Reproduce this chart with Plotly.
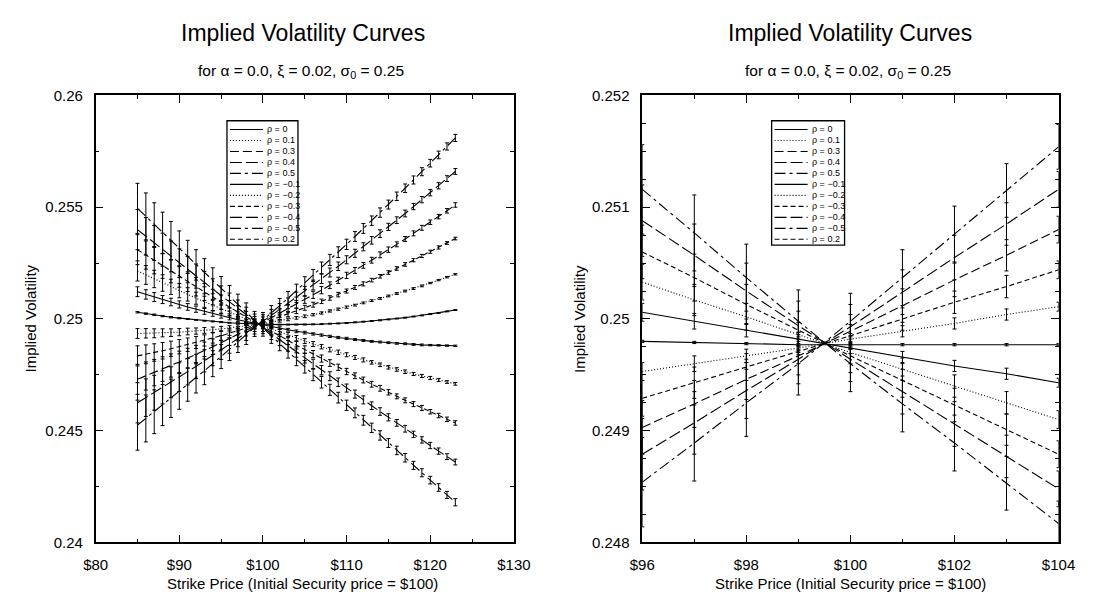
import plotly.graph_objects as go

# ---------------- data ----------------
rho_labels = ["ρ = 0", "ρ = 0.1", "ρ = 0.3", "ρ = 0.4", "ρ = 0.5",
              "ρ = −0.1", "ρ = −0.2", "ρ = −0.3", "ρ = −0.4", "ρ = −0.5", "ρ = 0.2"]
rho_keys = ["0", "0.1", "0.3", "0.4", "0.5", "-0.1", "-0.2", "-0.3", "-0.4", "-0.5", "0.2"]

strikes_left = [85, 86, 87, 88, 89, 90, 91, 92, 93, 94, 95, 96, 97, 98, 99, 100, 101, 102, 103,
                104, 105, 106, 107, 108, 109, 110, 111, 112, 113, 114, 115, 116, 117, 118, 119,
                120, 121, 122, 123]
strikes_right = [96, 97, 98, 99, 100, 101, 102, 103, 104]

# implied volatility, units of 1e-5
L_r00 = [25030, 25024, 25019, 25013, 25008, 25004, 25000, 24996, 24992, 24989, 24986, 24983, 24981, 24979, 24978,
         24976, 24976, 24975, 24975, 24975, 24975, 24976, 24977, 24979, 24980, 24982, 24985, 24988, 24991, 24994,
         24998, 25002, 25006, 25011, 25016, 25022, 25027, 25034, 25040]
L_r01 = [24935, 24936, 24936, 24938, 24939, 24941, 24944, 24946, 24949, 24952, 24956, 24960, 24965, 24969, 24974,
         24980, 24986, 24992, 24998, 25005, 25012, 25019, 25027, 25036, 25044, 25053, 25062, 25072, 25082, 25092,
         25103, 25114, 25125, 25136, 25148, 25161, 25174, 25187, 25200]
L_r02 = [24835, 24842, 24850, 24858, 24867, 24876, 24885, 24895, 24904, 24915, 24925, 24936, 24947, 24959, 24971,
         24983, 24996, 25009, 25022, 25036, 25050, 25064, 25079, 25094, 25109, 25125, 25141, 25157, 25174, 25191,
         25208, 25226, 25244, 25263, 25282, 25301, 25320, 25340, 25360]
L_r03 = [24730, 24745, 24760, 24776, 24792, 24808, 24825, 24841, 24859, 24876, 24894, 24912, 24930, 24949, 24967,
         24987, 25006, 25026, 25046, 25066, 25087, 25108, 25129, 25151, 25173, 25195, 25217, 25240, 25263, 25287,
         25310, 25334, 25358, 25383, 25408, 25433, 25458, 25484, 25510]
L_r04 = [24625, 24648, 24670, 24694, 24717, 24740, 24764, 24788, 24813, 24837, 24862, 24887, 24913, 24938, 24964,
         24990, 25016, 25043, 25070, 25097, 25124, 25152, 25180, 25208, 25236, 25265, 25294, 25323, 25352, 25382,
         25412, 25442, 25472, 25503, 25534, 25565, 25596, 25628, 25660]
L_r05 = [24525, 24555, 24585, 24615, 24645, 24676, 24706, 24737, 24769, 24800, 24832, 24864, 24896, 24928, 24961,
         24993, 25026, 25060, 25093, 25127, 25161, 25195, 25229, 25264, 25299, 25334, 25369, 25405, 25440, 25476,
         25512, 25549, 25585, 25622, 25659, 25697, 25734, 25772, 25810]
L_rm01 = [25122, 25110, 25098, 25087, 25076, 25065, 25054, 25044, 25034, 25024, 25015, 25006, 24997, 24989, 24981,
          24973, 24966, 24959, 24952, 24945, 24939, 24933, 24928, 24922, 24917, 24913, 24908, 24904, 24900, 24897,
          24894, 24891, 24889, 24886, 24884, 24883, 24882, 24881, 24880]
L_rm02 = [25215, 25197, 25179, 25161, 25144, 25127, 25110, 25093, 25077, 25061, 25045, 25029, 25014, 24999, 24984,
          24970, 24956, 24942, 24928, 24914, 24901, 24888, 24876, 24863, 24851, 24840, 24828, 24817, 24806, 24795,
          24784, 24774, 24764, 24754, 24745, 24736, 24727, 24718, 24710]
L_rm03 = [25310, 25286, 25261, 25237, 25214, 25190, 25167, 25144, 25121, 25098, 25075, 25053, 25031, 25009, 24988,
          24966, 24945, 24924, 24904, 24883, 24863, 24843, 24823, 24803, 24784, 24765, 24746, 24727, 24708, 24690,
          24672, 24654, 24636, 24619, 24602, 24585, 24568, 24551, 24535]
L_rm04 = [25400, 25370, 25340, 25310, 25280, 25250, 25221, 25192, 25163, 25134, 25105, 25076, 25048, 25019, 24991,
          24963, 24935, 24907, 24880, 24852, 24825, 24798, 24771, 24744, 24717, 24691, 24664, 24638, 24612, 24586,
          24560, 24535, 24509, 24484, 24459, 24434, 24409, 24384, 24360]
L_rm05 = [25495, 25459, 25422, 25386, 25350, 25314, 25278, 25242, 25207, 25171, 25136, 25100, 25065, 25030, 24995,
          24959, 24925, 24890, 24855, 24820, 24786, 24751, 24717, 24683, 24648, 24614, 24580, 24547, 24513, 24479,
          24445, 24412, 24379, 24345, 24312, 24279, 24246, 24213, 24180]

# error-bar half-lengths (1e-5), by |rho|
L_e00 = [3, 3, 3, 3, 3, 3, 2, 2, 2, 2, 2, 2, 2, 2, 2, 2, 2, 2, 2, 2, 2, 2, 2, 2, 2, 2, 2, 2, 2, 2,
         2, 2, 2, 2, 2, 2, 2, 2, 2]
L_e01 = [22, 21, 20, 18, 17, 16, 15, 14, 13, 12, 11, 10, 9, 8, 8, 7, 7, 6, 6, 6, 6, 5, 5, 5, 5, 5, 4, 4, 4, 4,
         4, 4, 4, 4, 4, 3, 3, 3, 3]
L_e02 = [45, 42, 39, 37, 34, 32, 30, 27, 25, 23, 22, 20, 18, 17, 16, 14, 14, 13, 12, 12, 11, 11, 10, 10, 10, 9,
         9, 9, 8, 8, 8, 8, 8, 7, 7, 7, 7, 6, 6]
L_e03 = [67, 63, 59, 55, 52, 48, 44, 41, 38, 35, 32, 30, 28, 25, 23, 22, 20, 19, 18, 17, 17, 16, 16, 15, 14, 14,
         13, 13, 13, 13, 12, 11, 11, 11, 11, 10, 10, 10, 10]
L_e04 = [90, 84, 78, 74, 69, 64, 59, 54, 50, 46, 43, 40, 37, 34, 31, 29, 27, 26, 24, 23, 22, 22, 21, 20, 19, 18,
         18, 18, 17, 17, 16, 15, 15, 14, 14, 14, 14, 13, 13]
L_e05 = [112, 105, 98, 92, 86, 80, 74, 68, 63, 58, 54, 50, 46, 42, 39, 36, 34, 32, 30, 29, 28, 27, 26, 25, 24,
         23, 22, 22, 21, 21, 20, 19, 19, 18, 18, 17, 17, 16, 16]

R_r00 = [24980, 24979, 24978, 24977, 24977, 24977, 24977, 24977, 24977]
R_r01 = [24953, 24960, 24967, 24974, 24982, 24989, 24996, 25004, 25011]
R_r02 = [24929, 24943, 24957, 24971, 24985, 25000, 25015, 25029, 25044]
R_r03 = [24903, 24924, 24946, 24967, 24989, 25012, 25035, 25057, 25080]
R_r04 = [24879, 24907, 24936, 24964, 24993, 25024, 25055, 25085, 25116]
R_r05 = [24854, 24889, 24925, 24960, 24998, 25037, 25076, 25115, 25154]
R_rm01 = [25006, 24998, 24990, 24982, 24974, 24966, 24958, 24951, 24943]
R_rm02 = [25033, 25017, 25002, 24986, 24970, 24955, 24940, 24925, 24910]
R_rm03 = [25060, 25037, 25013, 24990, 24967, 24945, 24923, 24901, 24879]
R_rm04 = [25088, 25057, 25025, 24994, 24964, 24935, 24906, 24877, 24848]
R_rm05 = [25116, 25077, 25037, 24998, 24960, 24924, 24889, 24853, 24817]

R_e00 = [1, 1, 1, 1, 1, 1, 1, 1, 1]
R_e01 = [8, 7, 6, 6, 5, 5, 5, 5, 4]
R_e02 = [16, 14, 12, 11, 10, 10, 10, 10, 8]
R_e03 = [24, 21, 18, 17, 15, 15, 15, 14, 12]
R_e04 = [32, 28, 25, 22, 20, 20, 20, 19, 16]
R_e05 = [40, 34, 30, 28, 25, 25, 25, 24, 20]

left_vals = {"0": L_r00, "0.1": L_r01, "0.2": L_r02, "0.3": L_r03, "0.4": L_r04, "0.5": L_r05,
             "-0.1": L_rm01, "-0.2": L_rm02, "-0.3": L_rm03, "-0.4": L_rm04, "-0.5": L_rm05}
right_vals = {"0": R_r00, "0.1": R_r01, "0.2": R_r02, "0.3": R_r03, "0.4": R_r04, "0.5": R_r05,
              "-0.1": R_rm01, "-0.2": R_rm02, "-0.3": R_rm03, "-0.4": R_rm04, "-0.5": R_rm05}
left_err = {"0": L_e00, "0.1": L_e01, "0.2": L_e02, "0.3": L_e03, "0.4": L_e04, "0.5": L_e05}
right_err = {"0": R_e00, "0.1": R_e01, "0.2": R_e02, "0.3": R_e03, "0.4": R_e04, "0.5": R_e05}

# ---------------- styles ----------------
dash_of = {"0": "solid", "-0.1": "solid",
           "0.1": "1px,2px", "-0.2": "1px,2px",
           "0.2": "5px,3px", "-0.3": "5px,3px",
           "0.3": "9px,4px",
           "0.4": "12px,4px", "-0.4": "12px,4px",
           "0.5": "11px,4px,3px,4px", "-0.5": "11px,4px,3px,4px"}

W, H = 1095, 602
FONT = "Liberation Sans, Arial, Helvetica, sans-serif"


def px(x):
    return x / W


def py(y):
    return 1 - y / H


fig = go.Figure()

for key, lab in zip(rho_keys, rho_labels):
    ek = key.lstrip("-")
    fig.add_trace(go.Scatter(
        x=strikes_left, y=[v * 1e-5 for v in left_vals[key]],
        mode="lines", name=lab, showlegend=False,
        line=dict(color="black", width=1.1, dash=dash_of[key]),
        error_y=dict(type="data", array=[e * 1e-5 for e in left_err[ek]], visible=True,
                     color="black", thickness=1, width=2),
        xaxis="x", yaxis="y"))
    fig.add_trace(go.Scatter(
        x=strikes_right, y=[v * 1e-5 for v in right_vals[key]],
        mode="lines", name=lab, showlegend=False,
        line=dict(color="black", width=1.1, dash=dash_of[key]),
        error_y=dict(type="data", array=[e * 1e-5 for e in right_err[ek]], visible=True,
                     color="black", thickness=1, width=2),
        xaxis="x2", yaxis="y2"))

# panel geometry (pixels)
L_X0, L_X1 = 85, 515
R_X0, R_X1 = 647, 1075
Y0, Y1 = 89, 549

axis_common = dict(showline=True, linecolor="black", linewidth=1.5, mirror="allticks",
                   ticks="inside", ticklen=8, tickwidth=1, tickcolor="black",
                   showgrid=False, zeroline=False, ticklabelstandoff=8,
                   tickfont=dict(family=FONT, size=15, color="black"))

fig.update_layout(
    width=W, height=H, autosize=False,
    margin=dict(l=0, r=0, t=0, b=0),
    paper_bgcolor="white", plot_bgcolor="white",
    font=dict(family=FONT, color="black"),
    showlegend=False,
    xaxis=dict(domain=[px(L_X0), px(L_X1)], range=[80, 130], anchor="y",
               tickmode="array", tickvals=[80, 90, 100, 110, 120, 130],
               ticktext=["$80", "$90", "$100", "$110", "$120", "$130"],
               minor=dict(tickmode="linear", tick0=80, dtick=5, ticks="inside", ticklen=4,
                          tickcolor="black"),
               **axis_common),
    yaxis=dict(domain=[py(Y1), py(Y0)], range=[0.24, 0.26], anchor="x",
               tickmode="array", tickvals=[0.24, 0.245, 0.25, 0.255, 0.26],
               ticktext=["0.24", "0.245", "0.25", "0.255", "0.26"],
               minor=dict(tickmode="linear", tick0=0.24, dtick=0.0025, ticks="inside", ticklen=4,
                          tickcolor="black"),
               **axis_common),
    xaxis2=dict(domain=[px(R_X0), px(R_X1)], range=[96, 104], anchor="y2",
                tickmode="array", tickvals=[96, 98, 100, 102, 104],
                ticktext=["$96", "$98", "$100", "$102", "$104"],
                minor=dict(tickmode="linear", tick0=96, dtick=1, ticks="inside", ticklen=4,
                           tickcolor="black"),
                **axis_common),
    yaxis2=dict(domain=[py(Y1), py(Y0)], range=[0.248, 0.252], anchor="x2",
                tickmode="array", tickvals=[0.248, 0.249, 0.25, 0.251, 0.252],
                ticktext=["0.248", "0.249", "0.25", "0.251", "0.252"],
                minor=dict(tickmode="linear", tick0=0.248, dtick=0.00025, ticks="inside", ticklen=4,
                           tickcolor="black"),
                **axis_common),
)

annotations = []
shapes = []
for cx, ytx in (((L_X0 + L_X1) / 2 - 2, 18), ((R_X0 + R_X1) / 2, 583)):
    annotations.append(dict(x=px(cx), y=py(25), xref="paper", yref="paper", showarrow=False,
                            text="Implied Volatility Curves", xanchor="center", yanchor="middle",
                            font=dict(family=FONT, size=23, color="black")))
    annotations.append(dict(x=px(cx - 2), y=py(64), xref="paper", yref="paper", showarrow=False,
                            text="for α = 0.0, ξ = 0.02, σ<sub>0</sub> = 0.25",
                            xanchor="center", yanchor="middle",
                            font=dict(family=FONT, size=15.5, color="black")))
    annotations.append(dict(x=px(cx), y=py(591), xref="paper", yref="paper", showarrow=False,
                            text="Strike Price (Initial Security price = $100)",
                            xanchor="center", yanchor="middle",
                            font=dict(family=FONT, size=15, color="black")))
    annotations.append(dict(x=px(ytx), y=py((Y0 + Y1) / 2), xref="paper", yref="paper",
                            showarrow=False, text="Implied Volatility", textangle=-90,
                            xanchor="center", yanchor="middle",
                            font=dict(family=FONT, size=15, color="black")))

# hand-built legends (one per panel)
for bx0, bx1 in ((220, 293), (780, 855)):
    shapes.append(dict(type="rect", xref="paper", yref="paper",
                       x0=px(bx0), x1=px(bx1), y0=py(243), y1=py(115),
                       line=dict(color="black", width=1.3), fillcolor="white", layer="above"))
    for i, (key, lab) in enumerate(zip(rho_keys, rho_labels)):
        yy = 124 + 11.3 * i
        shapes.append(dict(type="line", xref="paper", yref="paper",
                           x0=px(bx0 + 3), x1=px(bx0 + 37), y0=py(yy), y1=py(yy),
                           line=dict(color="black", width=1.1, dash=dash_of[key]), layer="above"))
        annotations.append(dict(x=px(bx0 + 39), y=py(yy), xref="paper", yref="paper",
                                showarrow=False, text=lab, xanchor="left", yanchor="middle",
                                font=dict(family=FONT, size=9, color="black")))

fig.update_layout(annotations=annotations, shapes=shapes)

fig.write_html("out.html",
               config={"displayModeBar": False},
               post_script="document.body.style.margin='0';document.body.style.overflow='hidden';")
